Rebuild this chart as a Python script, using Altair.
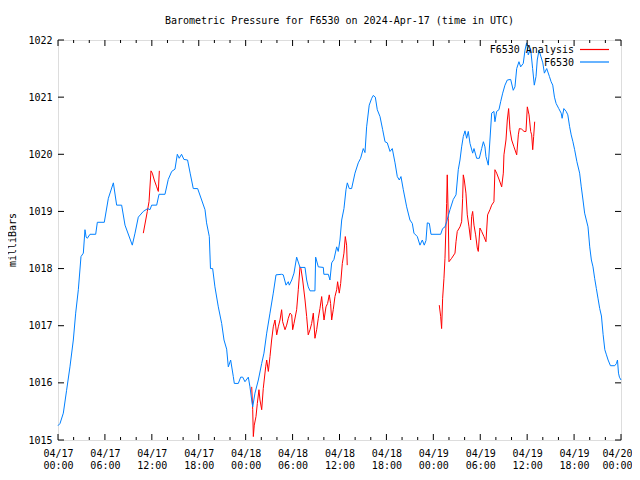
import altair as alt
import pandas as pd

# ---------------- text ----------------
title_text = "Barometric Pressure for F6530 on 2024-Apr-17 (time in UTC)"
y_title = "milliBars"
series_names = ["F6530 Analysis", "F6530"]
series_colors = ["#ff0000", "#0080ff"]

# ---------------- axis ticks ----------------
x_tick_hours = [0, 6, 12, 18, 24, 30, 36, 42, 48, 54, 60, 66, 72]
x_tick_dates = ["04/17", "04/17", "04/17", "04/17", "04/18", "04/18", "04/18", "04/18",
                "04/19", "04/19", "04/19", "04/19", "04/20"]
x_tick_times = ["00:00", "06:00", "12:00", "18:00", "00:00", "06:00", "12:00", "18:00",
                "00:00", "06:00", "12:00", "18:00", "00:00"]
x_minor_hours = [2, 4, 8, 10, 14, 16, 20, 22, 26, 28, 32, 34, 38, 40, 44, 46,
                 50, 52, 56, 58, 62, 64, 68, 70]
y_ticks = [1015, 1016, 1017, 1018, 1019, 1020, 1021, 1022]

# ---------------- F6530 (blue) : hours since 04/17 00:00 UTC, mbar ----------------
blue_hours = [0.0, 0.26, 0.68, 1.1, 1.53, 1.96, 2.26, 2.6, 2.94, 3.24, 3.45, 3.6, 3.75, 4.09, 4.82,
              5.03, 5.92, 6.44, 7.08, 7.5, 8.14, 8.57, 9.5, 9.85, 10.27, 10.91, 11.47, 11.76, 11.98,
              12.62, 12.92, 13.68, 14.1, 14.54, 14.96, 15.26, 15.5, 15.8, 16.1, 16.57, 16.9, 17.3,
              17.86, 18.37, 18.8, 19.0, 19.35, 19.5, 19.78, 20.07, 20.5, 20.93, 21.23, 21.57, 21.78,
              22.08, 22.42, 22.55, 23.06, 23.36, 23.62, 23.91, 24.34, 24.55, 24.77, 24.9, 25.19,
              25.62, 26.05, 26.34, 26.69, 27.11, 27.53, 27.88, 28.6, 28.81, 29.16, 29.45, 29.58,
              29.89, 30.18, 30.52, 30.95, 31.59, 31.8, 32.0, 32.23, 32.86, 32.95, 33.29, 33.93,
              34.0, 34.57, 34.78, 35.0, 35.29, 35.64, 35.84, 36.06, 36.28, 36.57, 36.83, 37.0,
              37.25, 37.55, 37.98, 38.4, 38.7, 39.04, 39.26, 39.47, 39.8, 40.12, 40.32, 40.58,
              40.83, 41.18, 41.52, 41.82, 42.11, 42.46, 42.75, 43.1, 43.39, 43.65, 43.86, 44.16,
              44.59, 45.01, 45.31, 45.52, 45.95, 46.29, 46.59, 46.84, 47.06, 47.23, 47.49, 47.7,
              48.94, 49.19, 49.49, 49.7, 50.13, 50.55, 50.9, 51.19, 51.41, 51.62, 51.83, 52.05,
              52.26, 52.47, 52.69, 53.03, 53.2, 53.54, 53.88, 54.18, 54.4, 54.6, 54.73, 55.03,
              55.24, 55.46, 55.75, 55.88, 56.1, 56.39, 56.61, 56.87, 57.16, 57.46, 57.89, 58.22,
              58.44, 58.66, 58.95, 59.17, 59.5, 59.72, 59.93, 60.14, 60.44, 60.7, 60.91, 61.13,
              61.29, 61.51, 61.76, 62.0, 62.2, 62.5, 62.85, 63.06, 63.27, 63.49, 63.7, 64.04,
              64.35, 64.47, 64.69, 64.99, 65.2, 65.42, 65.63, 65.85, 66.07, 66.36, 66.71, 66.92,
              67.14, 67.35, 67.78, 68.0, 68.21, 68.42, 68.63, 68.85, 69.07, 69.28, 69.5, 69.71,
              69.93, 70.14, 70.35, 70.65, 71.2, 71.42, 71.55, 71.68, 71.8, 72.0]
blue_values = [1015.25, 1015.29, 1015.47, 1015.87, 1016.28, 1016.75, 1017.22, 1017.63, 1018.21,
               1018.27, 1018.68, 1018.55, 1018.53, 1018.6, 1018.6, 1018.81, 1018.81, 1019.23,
               1019.5, 1019.11, 1019.11, 1018.76, 1018.41, 1018.62, 1018.9, 1019.0, 1019.05,
               1019.03, 1019.11, 1019.11, 1019.3, 1019.3, 1019.56, 1019.7, 1019.74, 1020.0,
               1019.93, 1020.0, 1019.91, 1019.9, 1019.67, 1019.4, 1019.4, 1019.2, 1019.03,
               1018.8, 1018.56, 1018.0, 1018.0, 1017.68, 1017.33, 1017.04, 1016.75, 1016.59,
               1016.28, 1016.4, 1016.11, 1015.99, 1015.99, 1016.1, 1016.1, 1016.02, 1016.1,
               1015.93, 1015.7, 1015.58, 1015.82, 1016.05, 1016.34, 1016.52, 1016.87, 1017.22,
               1017.57, 1017.89, 1017.9, 1017.89, 1017.71, 1017.77, 1017.71, 1017.8, 1017.92,
               1018.2, 1018.02, 1018.02, 1017.8, 1017.68, 1017.61, 1017.61, 1018.2, 1018.03,
               1018.02, 1017.9, 1017.9, 1017.8, 1018.1, 1018.16, 1018.38, 1018.3, 1018.5,
               1018.85, 1019.05, 1019.38, 1019.5, 1019.4, 1019.4, 1019.67, 1019.85, 1019.93,
               1020.1, 1020.03, 1020.48, 1020.86, 1020.98, 1021.03, 1021.0, 1020.78, 1020.66,
               1020.43, 1020.22, 1020.2, 1020.05, 1020.1, 1019.85, 1019.61, 1019.55, 1019.61,
               1019.38, 1019.08, 1018.85, 1018.79, 1018.62, 1018.56, 1018.41, 1018.5, 1018.41,
               1018.49, 1018.8, 1018.79, 1018.6, 1018.6, 1018.7, 1018.73, 1018.82, 1019.03,
               1019.21, 1019.29, 1019.73, 1019.9, 1020.13, 1020.31, 1020.41, 1020.28, 1020.4,
               1020.19, 1020.02, 1020.1, 1019.93, 1019.93, 1020.1, 1020.22, 1020.13, 1019.96,
               1019.81, 1020.25, 1020.72, 1020.75, 1020.57, 1020.75, 1020.78, 1020.92, 1021.07,
               1021.21, 1021.3, 1021.31, 1021.12, 1021.18, 1021.5, 1021.62, 1021.53, 1021.59,
               1021.82, 1021.95, 1021.74, 1021.85, 1021.5, 1021.21, 1021.36, 1021.65, 1021.82,
               1021.71, 1021.6, 1021.42, 1021.5, 1021.36, 1021.27, 1021.21, 1021.0, 1020.89,
               1020.8, 1020.72, 1020.63, 1020.8, 1020.75, 1020.69, 1020.49, 1020.34, 1020.22,
               1020.08, 1019.87, 1019.67, 1019.43, 1019.2, 1018.97, 1018.73, 1018.38, 1018.15,
               1018.03, 1017.83, 1017.65, 1017.47, 1017.3, 1017.17, 1016.85, 1016.58, 1016.49,
               1016.4, 1016.3, 1016.3, 1016.34, 1016.4, 1016.17, 1016.1, 1016.05]

# ---------------- F6530 Analysis (red), three separate runs ----------------
red1_hours = [10.91, 11.42, 11.64, 11.89, 12.06, 12.31, 12.62, 12.83, 12.96]
red1_values = [1018.62, 1019.0, 1019.17, 1019.71, 1019.67, 1019.55, 1019.43, 1019.35, 1019.71]

red2_hours = [24.77, 24.9, 24.98, 25.1, 25.32, 25.49, 25.7, 25.83, 26.05, 26.25, 26.56, 26.69,
              26.9, 27.11, 27.32, 27.53, 27.75, 27.97, 28.17, 28.39, 28.6, 28.73, 29.03, 29.24,
              29.45, 29.67, 29.89, 30.01, 30.18, 30.52, 30.73, 30.95, 31.07, 31.29, 31.59, 31.8,
              32.0, 32.23, 32.44, 32.65, 32.86, 33.08, 33.29, 33.5, 33.72, 33.84, 34.02, 34.27,
              34.48, 34.69, 34.86, 35.0, 35.2, 35.42, 35.64, 35.76, 35.97, 36.15, 36.36, 36.57,
              36.74, 36.91, 36.99]
red2_values = [1015.93, 1015.53, 1015.06, 1015.26, 1015.41, 1015.64, 1015.88, 1015.7, 1015.53,
               1015.9, 1016.28, 1016.4, 1016.2, 1016.46, 1016.75, 1016.98, 1017.1, 1016.84,
               1016.98, 1017.1, 1017.28, 1017.07, 1016.93, 1017.01, 1017.13, 1017.22, 1017.19,
               1016.93, 1017.04, 1017.28, 1017.63, 1018.03, 1018.0, 1017.8, 1017.45, 1017.16,
               1016.84, 1016.93, 1017.04, 1017.22, 1016.78, 1016.93, 1017.13, 1017.3, 1017.51,
               1017.33, 1017.1, 1017.33, 1017.39, 1017.54, 1017.39, 1017.1, 1017.28, 1017.51,
               1017.63, 1017.77, 1017.57, 1017.74, 1018.09, 1018.27, 1018.56, 1018.41, 1018.06]

red3_hours = [48.76, 48.94, 49.06, 49.19, 49.36, 49.49, 49.7, 49.78, 49.91, 50.0, 50.34, 50.77,
              50.9, 51.06, 51.41, 51.62, 51.75, 51.83, 51.96, 52.17, 52.34, 52.56, 52.77, 52.9,
              53.03, 53.2, 53.41, 53.62, 53.75, 53.96, 54.18, 54.47, 54.73, 54.94, 55.24, 55.46,
              55.75, 55.88, 56.1, 56.43, 56.74, 56.95, 57.03, 57.29, 57.46, 57.63, 57.8, 58.02,
              58.31, 58.66, 58.87, 59.0, 59.3, 59.6, 59.85, 60.02, 60.24, 60.45, 60.58, 60.71,
              60.83, 60.96]
red3_values = [1017.36, 1017.16, 1016.95, 1017.48, 1017.83, 1018.18, 1019.14, 1019.64, 1018.88,
               1018.12, 1018.18, 1018.27, 1018.47, 1018.65, 1018.73, 1018.82, 1019.23, 1019.64,
               1019.55, 1019.32, 1018.94, 1018.73, 1018.5, 1018.91, 1019.0, 1018.76, 1018.59,
               1018.36, 1018.3, 1018.71, 1018.65, 1018.56, 1018.47, 1018.94, 1019.03, 1019.11,
               1019.17, 1019.73, 1019.67, 1019.55, 1019.43, 1019.67, 1019.99, 1020.25, 1020.6,
               1020.8, 1020.43, 1020.25, 1020.13, 1019.99, 1020.34, 1020.45, 1020.44, 1020.4,
               1020.4, 1020.83, 1020.69, 1020.4, 1020.34, 1020.08, 1020.31, 1020.57]

# ---------------- build tables ----------------
blue_df = pd.DataFrame({"h": blue_hours, "p": blue_values, "series": series_names[1], "seg": 0})
red_df = pd.concat([
    pd.DataFrame({"h": red1_hours, "p": red1_values, "series": series_names[0], "seg": 1}),
    pd.DataFrame({"h": red2_hours, "p": red2_values, "series": series_names[0], "seg": 2}),
    pd.DataFrame({"h": red3_hours, "p": red3_values, "series": series_names[0], "seg": 3}),
], ignore_index=True)

W, H = 563, 400
MONO = "DejaVu Sans Mono"
FS = 10

x_scale = alt.Scale(domain=[0, 72], nice=False, zero=False)
y_scale = alt.Scale(domain=[1015, 1022], nice=False, zero=False)
color_scale = alt.Scale(domain=series_names, range=series_colors)

def js_list(items):
    return "[" + ",".join("'" + s + "'" for s in items) + "]"

label_expr = ("[" + js_list(x_tick_dates) + "[round(datum.value/6)], "
              + js_list(x_tick_times) + "[round(datum.value/6)]]")

x_axis = alt.Axis(
    values=x_tick_hours, labelExpr=label_expr, title=None, ticks=False, domain=False,
    grid=False, labelPadding=8, labelLineHeight=12, labelFont=MONO, labelFontSize=FS,
    labelColor="black", labelFlush=False, labelOverlap=False, labelBound=False,
    labelOffset={"condition": {"test": "datum.value >= 72", "value": -4}, "value": 0})
y_axis = alt.Axis(
    values=y_ticks, format="d", title=None, ticks=False, domain=False, grid=False,
    labelPadding=6, labelFont=MONO, labelFontSize=FS, labelColor="black",
    labelFlush=False, labelOverlap=False)

x_enc = alt.X("h:Q", scale=x_scale, axis=x_axis)
y_enc = alt.Y("p:Q", scale=y_scale, axis=y_axis)

red_line = alt.Chart(red_df).mark_line(strokeWidth=1).encode(
    x=x_enc, y=y_enc, detail="seg:N",
    color=alt.Color("series:N", scale=color_scale, legend=None))
blue_line = alt.Chart(blue_df).mark_line(strokeWidth=1).encode(
    x=x_enc, y=y_enc, detail="seg:N",
    color=alt.Color("series:N", scale=color_scale, legend=None))

major_df = pd.DataFrame({"h": x_tick_hours})
minor_df = pd.DataFrame({"h": x_minor_hours})
ytick_df = pd.DataFrame({"p": y_ticks})

def xticks(df, length):
    bottom = alt.Chart(df).mark_rule(color="black", strokeWidth=1).encode(
        x=x_enc, y=alt.value(H), y2=alt.value(H - length))
    top = alt.Chart(df).mark_rule(color="black", strokeWidth=1).encode(
        x=x_enc, y=alt.value(0), y2=alt.value(length))
    return [bottom, top]

yt_left = alt.Chart(ytick_df).mark_rule(color="black", strokeWidth=1).encode(
    y=y_enc, x=alt.value(0), x2=alt.value(6))
yt_right = alt.Chart(ytick_df).mark_rule(color="black", strokeWidth=1).encode(
    y=y_enc, x=alt.value(W), x2=alt.value(W - 6))

title_layer = alt.Chart(pd.DataFrame({"t": [title_text]})).mark_text(
    font=MONO, fontSize=FS, align="center", baseline="middle", color="black").encode(
    text="t:N", x=alt.value(W / 2), y=alt.value(-19))
ytitle_layer = alt.Chart(pd.DataFrame({"t": [y_title]})).mark_text(
    font=MONO, fontSize=FS, align="center", baseline="middle", color="black", angle=270).encode(
    text="t:N", x=alt.value(-45), y=alt.value(H / 2))

leg_text = []
leg_line = []
for i, (name, col) in enumerate(zip(series_names, series_colors)):
    yy = 10 + 12.5 * i
    ldf = pd.DataFrame({"t": [name], "series": [name]})
    leg_text.append(alt.Chart(ldf).mark_text(
        font=MONO, fontSize=FS, align="right", baseline="middle", color="black").encode(
        text="t:N", x=alt.value(516), y=alt.value(yy)))
    leg_line.append(alt.Chart(ldf).mark_rule(strokeWidth=1.2).encode(
        x=alt.value(522), x2=alt.value(551), y=alt.value(yy - 0.5),
        color=alt.Color("series:N", scale=color_scale, legend=None)))

chart = alt.layer(
    red_line, blue_line,
    *xticks(major_df, 6), *xticks(minor_df, 3), yt_left, yt_right,
    title_layer, ytitle_layer, *leg_text, *leg_line,
).properties(
    width=W, height=H,
    autosize=alt.AutoSizeParams(type="none"),
    padding={"left": 50, "top": 32, "right": 11, "bottom": 30},
).configure_view(stroke="black", strokeWidth=1).configure(background="white")

chart.save("out.html", embed_options={"renderer": "svg", "actions": False})
